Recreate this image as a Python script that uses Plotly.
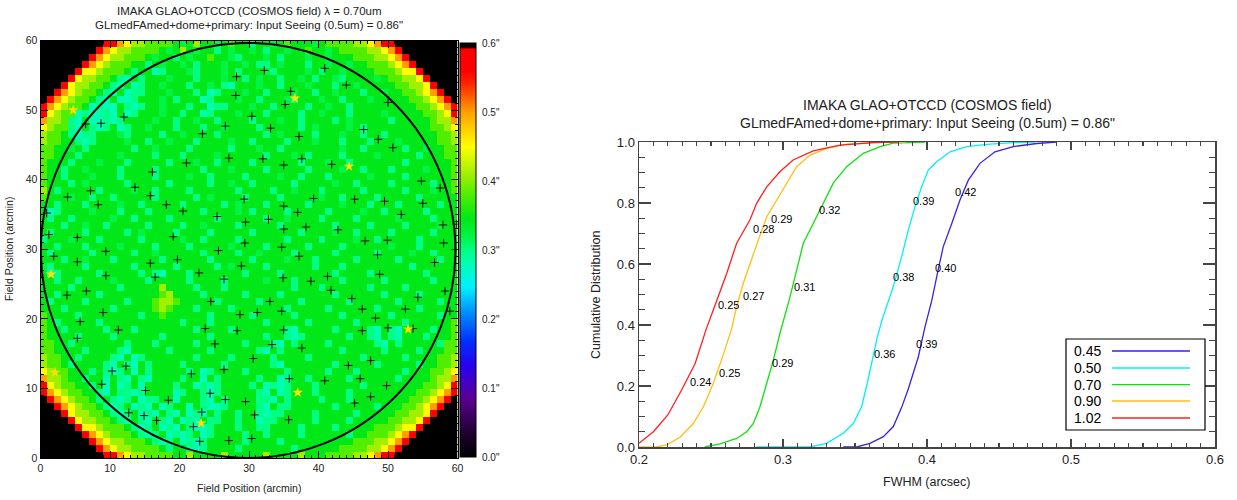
import plotly.graph_objects as go

# ---------------- data: left panel (FWHM map, arcsec) ----------------
# one character per 1x1 arcmin cell, rows listed from top (y=59) to bottom (y=0)
LEVELS = {"K": 0.60, "R": 0.56, "O": 0.50, "Y": 0.45, "L": 0.41, "l": 0.38,
          "G": 0.345, "g": 0.32, "T": 0.30, "C": 0.28}
MAP_ROWS = [
    "KKKKKKKKKR ROYLLllllG gGLGGgGlGG TGGgGlGGGg GllllLLYOR RKKKKKKKKK",
    "KKKKKKKKRO YLLllllGgG LGgGGTGgGG gGTGGgGGlG GgGllllLLY ORKKKKKKKK",
    "KKKKKKKROY LLlllGgGGT GgGGlGGgTG GGgGTGGGgG GgGGGlllLL YORKKKKKKK",
    "KKKKKKROYL lllGGTGgGG gGTGGGgGGg GTTGgGGGTG GgGGgGGlll LYORKKKKKK",
    "KKKKKRYYLl llGTGGCTGG GgTGGGgGTG GGgTGGGGgG TGGgGGGGll lLYYRKKKKK",
    "KKKKRYLLll GTCGTGGGgG GGTGGGgGGT GgGGTGGgGT GGgTGGGGgG llLLYRKKKK",
    "KKKRYLLllG TCGCTGGgGG GTGGgGTCGG GgGGTGGGgG GGTGGgGGGG GllLLYRKKK",
    "KKROYLllGT CGCTTGGGgG GGTGCTGGGg GGTGGGgGGT GGgGGGTGGg GGllLYORKK",
    "KROYLllGTC GCCTGGGgGT GGGCTGGGgG GTGGGgTGGG gGGTGGGgGG GGGllLYORK",
    "ROYLllGCTC CGTCTGGgGG GTGGCTTGGG gGGTGGGGTG GgGGTGGGGG GGGGllLYOR",
    "RYLllCTCCT CGCTGGGgGG TGGCTGGGgG GGTGGGGTGG gGGGTGGGGg GGGGGllLYR",
    "OLLlTCGCCT CTGGGGgGGT GGgGGTGGGG TGGGgGGTGG GGTGgGGGGG TGGGGGlLLO",
    "YLllTCGTCT GCTGGgGGGT GGGTGGgGGG GTGGGGGTGg GGGGgGTGGG GGGGGGllLY",
    "LllGTCTTGG GgTGGGGTGG gGGGGTGGGG GGTGgGGGGT GGGgGGTGGT GGGGGGGllL",
    "LllGGTCTGG GGgGGTGGgG GGTGGGGgGG TGGGGTGGGg GGGTGGGTGG GgGGGGGllL",
    "llGGgGTGGG GGGTGGgGGG GTGGGGGTGG GgGGTGGGGG GGGgGGTGGG GGTGGgGGll",
    "llGGGTGGGG GgGGGGTGGG TGGGGgGGGG GGTGGGgGTG GGGTGGGGgG GGGGTGGGll",
    "lGGGTGGGgG GGTGGGGGTG GGgGGTGGGG TGGGGGGTGG GgGGTGGGGG GGTGGGGGGl",
    "lGGTGGgGGG GTGGGGTGGG GGGTGGGgGG GGTGGGGGTG GGGgGGTGGG TGGGGgGGGl",
    "lGGTGGGgGG GTGGGGTGGG GgGGTGGGGT GGGGgGGTGG GTGGGGGgGG GGTGGGGGGl",
    "lGGGTGgGGG GGTGGGGGTG GGGGTGGgGG TGGGGGTGGG GGgGGTGGGG TGGGGGTGGl",
    "LGTGGGGGTG GGGgGGTGGG GTGGGGGGTG GGGTGGgGGG TGGGGGTGGG GGTGGGgGGl",
    "lGGGgGGTGG TGGGGGTGGG GGTGgGGGGT GGGGTGGGGG gGGTGGGGTG GGGGTGGGGG",
    "GGTGGGTGGG GgGGTGGGGG TGGGGGTGgG GGTGGGGGTG GGGgGGGTGG GTGGGGGTGG",
    "GCTGGGGgGG GTGGGTGGGG GGGTGGGGgG TGGGGTGGGG GTGGGGgGGT GGGGGTGGGG",
    "GTGGTGGGGG gGGTGGGGTG GGGGGTGGGG GGTGGgGGGG TGGGGTGGGG GgGGGGTGGG",
    "GGGTGGgGGT GGGGGTGGGG TGGgGGGGTG GGGGTGGGGG GGTGGGGTGG GGTGGGGgGG",
    "GTGGGGTGGG GGTGgGGGGT GGGGTGGGGG TGGGGGGTGG GGgGGTGGGG TGGGGGTGGG",
    "TGGGgGGGTG GGGGTGGGGG gGGTGGGGTG GGGGGTGGGG TGGGGgGGTG GGGGTGGGGG",
    "GGTGGGTGGG GgGGGGTGGG GTGGGGGgGG GGTGGGGGTG GGGTGGGGGG gGGGTGGGGG",
    "GTGGGGGTGG GGGTGGgGGG GGGTGGGGTG GgGGGGTGGG GGTGGGGGTG GGGgGGTGGG",
    "GGGTGGgGGG TGGGGGGTGG GGGGTGGGGG TGGGGgGGGT GGGGGTGGGG GTGGGGGTGG",
    "gTGGGGTGGG GGGTGGGGGT GGGGGTGgGG GGTGGGGGGT GGGTGGGGGG GGGTGGGGGG",
    "GCTGGGGGTG GGGGTGTCGG GTGGGGGGGT GGGGTGGGGG GGTGGGGTGG GGGGGTGGGG",
    "GGTGGTGGGG gGGGGTGGGG GTGGGGTGGG GGgGGGTGGG GGGTGGGGGT GGGGGGTGGG",
    "GGGGTGGGGG GTGGGGGLGG GGTGGGTGGG GGGGGGTGGG TGGGGGGTGG GGTGGGGGGG",
    "GGTGGGGGTG GGGGGGGlLG GGGTGGGGGT GGGGTGGGGG GGTGGGGGGT GGGGTGGGGG",
    "GTGGGGTGGG GGTGGGlLLl GGGGGTGGGG GTGGGGGTGG GGGGTGGGGG GTGGGGGTGG",
    "GGGTGGGGGG TGGGGGlLlG GGTGGGGTGG GGGGGTGGGG GTGGGGGGTG GGGGTGGGGG",
    "lGGGGTGGGG GGGGTGGlGG GGGGTGGGGG TGGGGGTGGG GGGTGGGGGG TGGGGGGTGG",
    "lGTGGGGGTG GGGGGGGGGG TGGGTGGGGG GGTGGGGGTG GGGGGTGGGG GGTGGGGGGl",
    "lGGTGGGGGT GGGTGGGGGG GGTGGGGTGG GGGGGTCGGG GGTGGGGTCG TCGGGGTGGl",
    "lGGGGTGGGG TGGGGGGTGG GGGGTGGGGG GGTGGTCTGG GGGGTGGTCG TCGGGTGGGl",
    "llGGTGGGGG GGTGGGTGGG GGTGGGGGGT GGGTCGTGGG GTGGGGGGTC GTGGGGGTll",
    "llGGGGTGGG GTCGGGGGTG GGGGTGGGGG GTCGTGGGGG GGGTGGGGGT GGGGTGGGll",
    "LllGGTGGGG TCGCTGGGGG GGTGGGGTGG GGGTGGGGTG GGGGGGTGGG GGTGGGGllL",
    "LllGTGGGGT CGTCGTGGGG TGGGGGTGGG GGGTCGGGGG GGTGGGGGTG GGGGTGGllL",
    "YLllGGGTGT CTGCGTGGGG GTGCTGGGGT GGGGGTGGGG GTGGGTGGGG GGTGGGllLY",
    "OLLlGGTGGC GTCGTCGGGG TGGCGTGGGG GTGGCTGGTG GGGGTGGGGG GTGGGGlLLO",
    "RYLllGGTGC GCTGCGGGGT GGCTCTGGGG TGCTCTGGGT GGGGGGTGGG GGGGGllLYR",
    "ROYLllGGTC GTTCTGGGGC TGGTCTGGGG GTCGCTGGGT GGGGTGGGGG GGGGllLYOR",
    "KROYLllGTG TCTGCTTGGC GGGTCGTGGG GTTCGTGGGG TGGGTGGGGG GGGllLYORK",
    "KKROYLllGT CTGCTCGCTG GCGTCCTGGG GTCGTTGGGG GGTGGGGGTG GGllLYORKK",
    "KKKRYLLllG TCTGCTCGTC GCTCGTGGTG GTCTTGGGGT GGGGGTGGGG GllLLYRKKK",
    "KKKKRYLLll GTCGTCGTCG CTCGTTGGTG GCTTGGGGGT GGGGTGGGGG llLLYRKKKK",
    "KKKKKRYYLl llGTCTGCTC GTCCTGGGTG GTTGGGGTGG GGTGGGGGll lLYYRKKKKK",
    "KKKKKKROYL lllGTCTGCT CTGCTGGGGT GGTGGGGTGG GGGGTGGlll LYORKKKKKK",
    "KKKKKKKROY LLlllGTCTG CTCTGGGGGT GGGGTGGGGG GGGGGlllLL YORKKKKKKK",
    "KKKKKKKKRO YLLllllGTG GTCTGGGGTG GGGGGGTGGG GGGllllLLY ORKKKKKKKK",
    "KKKKKKKKKR ROYLLllllG GLGGGGLGGG GGLGGGGLGG GllllLLYOR RKKKKKKKKK",
]

PLUS_X = [28.2, 28.1, 6.5, 8.7, 12.0, 26.6, 23.3, 27.1, 21.0, 16.1, 13.6, 15.8, 7.2, 3.9, 8.3,
          18.1, 20.5, 29.3, 25.4, 29.5, 0.9, 1.2, 5.3, 19.1, 29.4, 9.4, 25.6, 1.9, 19.7,
          32.2, 40.9, 44.0, 36.0, 35.2, 50.0, 30.4, 33.1, 46.5, 37.2, 48.6, 50.7, 32.0, 37.6,
          35.0, 41.9, 54.8, 57.5, 39.3, 35.0, 45.2, 49.5, 55.0, 37.0, 51.9, 32.8, 35.0, 38.2,
          42.8, 57.9, 59.9, 34.7, 46.7, 49.9, 58.0, 37.2, 48.5,
          5.3, 15.8, 9.4, 16.5, 22.8, 26.4, 28.9, 3.8, 6.6, 24.5, 9.0, 5.7, 28.7, 11.2, 23.7,
          28.3, 5.3, 25.1, 12.3, 10.3, 21.7, 26.4, 8.8, 15.1, 24.4, 18.4, 26.6, 29.5, 12.7,
          14.9, 23.2, 16.7, 22.0, 22.9, 27.1,
          56.7, 34.9, 41.3, 48.8, 38.9, 41.8, 58.2, 33.0, 44.8, 54.3, 31.2, 34.7, 46.3, 52.5,
          58.9, 48.2, 35.0, 46.3, 50.0, 53.6, 33.3, 37.6, 30.6, 47.5, 44.3, 35.8, 40.9, 46.0,
          49.8, 47.5, 45.2, 30.8, 35.7, 30.4]
PLUS_Y = [54.8, 52.1, 48.0, 48.1, 49.0, 47.7, 46.6, 43.1, 42.4, 41.1, 38.9, 37.7, 38.4, 37.5, 36.4,
          36.4, 35.5, 37.2, 34.7, 33.9, 35.2, 32.1, 31.7, 31.8, 30.9, 29.7, 29.8, 29.0, 28.5,
          55.7, 56.0, 53.6, 52.7, 50.8, 51.1, 49.1, 47.4, 47.2, 46.2, 45.8, 44.6, 43.0, 43.0,
          42.1, 42.2, 39.8, 38.8, 37.3, 36.2, 37.2, 36.9, 36.6, 35.3, 35.0, 34.3, 32.9, 33.2,
          32.8, 33.5, 33.6, 30.3, 31.2, 31.3, 30.9, 29.0, 29.2,
          28.2, 28.0, 26.2, 26.0, 26.6, 25.7, 27.6, 23.4, 24.0, 22.5, 20.9, 19.6, 20.6, 18.4, 18.6,
          18.3, 17.2, 16.4, 13.2, 12.5, 12.1, 12.7, 10.6, 9.7, 9.3, 8.3, 8.4, 8.1, 6.5,
          6.1, 6.6, 5.4, 4.5, 2.4, 2.5,
          28.1, 25.9, 26.1, 26.4, 25.4, 24.1, 24.0, 22.5, 22.9, 23.1, 20.9, 21.1, 21.4, 21.4,
          21.1, 20.1, 18.4, 18.3, 18.7, 18.6, 16.3, 15.8, 14.3, 14.0, 13.3, 11.4, 11.1, 11.4,
          10.4, 8.8, 7.9, 6.2, 5.5, 2.8]
STAR_X = [4.7, 36.6, 44.4, 1.5, 2.1, 23.1, 52.9, 37.0]
STAR_Y = [50.0, 51.7, 41.9, 26.4, 12.3, 5.0, 18.5, 9.4]

CBAR_VALS = [0.0, 0.1, 0.2, 0.3, 0.4, 0.5, 0.6]
CBAR_TEXT = ['0.0"', '0.1"', '0.2"', '0.3"', '0.4"', '0.5"', '0.6"']

# ---------------- data: right panel (cumulative FWHM distributions) ----------------
SERIES = ["0.45", "0.50", "0.70", "0.90", "1.02"]
FWHM_045 = [0.3419, 0.3512, 0.3604, 0.3697, 0.3766, 0.3824, 0.3870, 0.3940, 0.3986, 0.4033,
            0.4075, 0.4113, 0.4172, 0.4229, 0.4287, 0.4368, 0.4472, 0.4600, 0.4762, 0.4900]
CDF_045 = [0.0, 0.0, 0.012, 0.034, 0.067, 0.130, 0.190, 0.296, 0.394, 0.480,
           0.575, 0.657, 0.733, 0.810, 0.875, 0.930, 0.968, 0.985, 0.995, 1.0]
FWHM_050 = [0.2815, 0.3188, 0.3303, 0.3419, 0.3488, 0.3546, 0.3585, 0.3623, 0.3655, 0.3690,
            0.3725, 0.3766, 0.3824, 0.3870, 0.3917, 0.3963, 0.4009, 0.4067, 0.4160, 0.4275,
            0.4438, 0.4600, 0.4750]
CDF_050 = [0.0, 0.0, 0.012, 0.045, 0.077, 0.132, 0.209, 0.296, 0.360, 0.420,
           0.470, 0.526, 0.624, 0.711, 0.788, 0.853, 0.908, 0.935, 0.968, 0.985,
           0.993, 0.998, 1.0]
FWHM_070 = [0.2456, 0.2562, 0.2678, 0.2748, 0.2794, 0.2840, 0.2887, 0.2933, 0.2979, 0.3026,
            0.3049, 0.3095, 0.3141, 0.3210, 0.3280, 0.3349, 0.3442, 0.3558, 0.3674, 0.3766,
            0.3986]
CDF_070 = [0.0, 0.010, 0.028, 0.050, 0.077, 0.132, 0.209, 0.285, 0.373, 0.449,
           0.493, 0.580, 0.668, 0.733, 0.799, 0.865, 0.919, 0.963, 0.985, 0.996,
           1.0]
FWHM_090 = [0.2000, 0.2120, 0.2192, 0.2285, 0.2377, 0.2447, 0.2516, 0.2585, 0.2644, 0.2678,
            0.2724, 0.2771, 0.2829, 0.2887, 0.2956, 0.3026, 0.3095, 0.3188, 0.3303, 0.3442,
            0.3673, 0.3850]
CDF_090 = [0.0, 0.0, 0.007, 0.032, 0.077, 0.132, 0.209, 0.302, 0.389, 0.460,
           0.537, 0.602, 0.679, 0.755, 0.810, 0.865, 0.919, 0.957, 0.979, 0.993,
           0.999, 1.0]
FWHM_102 = [0.2000, 0.2100, 0.2200, 0.2296, 0.2390, 0.2465, 0.2535, 0.2609, 0.2678, 0.2770,
            0.2817, 0.2887, 0.2980, 0.3070, 0.3210, 0.3396, 0.3627, 0.3800]
CDF_102 = [0.012, 0.050, 0.105, 0.187, 0.274, 0.384, 0.474, 0.569, 0.668, 0.744,
           0.799, 0.853, 0.903, 0.941, 0.971, 0.990, 0.998, 1.0]

# quartile labels: (x, y, text)
QLAB_045 = [(0.3998, 0.337, "0.39"), (0.4125, 0.586, "0.40"), (0.4269, 0.835, "0.42")]
QLAB_050 = [(0.3704, 0.305, "0.36"), (0.3835, 0.556, "0.38"), (0.3974, 0.807, "0.39")]
QLAB_070 = [(0.2995, 0.277, "0.29"), (0.3146, 0.526, "0.31"), (0.3322, 0.777, "0.32")]
QLAB_090 = [(0.2627, 0.244, "0.25"), (0.2794, 0.496, "0.27"), (0.2991, 0.747, "0.29")]
QLAB_102 = [(0.2430, 0.213, "0.24"), (0.2620, 0.466, "0.25"), (0.2864, 0.715, "0.28")]

COLORS = ["#3a22dd", "#00f0f8", "#10e010", "#ffbe10", "#ff1e1e"]

W, H = 1237, 500
FONT = "Liberation Sans, Arial, sans-serif"


def px(x):
    return x / W


def py(y):
    return 1 - y / H


rows = [r.replace(" ", "") for r in MAP_ROWS]
z = []
for r in reversed(rows):
    r = (r + "G" * 60)[:60]
    z.append([LEVELS[c] for c in r])

colorscale = [
    [0.0, "#000000"], [0.06, "#200030"], [0.14, "#5a0090"], [0.22, "#2a00f0"],
    [0.28, "#0030ff"], [0.35, "#0090ff"], [0.41, "#00f0ff"], [0.467, "#00ffb4"],
    [0.50, "#00ff84"], [0.533, "#00f444"], [0.575, "#00e818"], [0.633, "#50ee00"],
    [0.683, "#a0f000"], [0.75, "#ffff00"], [0.833, "#ffa000"], [0.90, "#ff2800"],
    [0.933, "#ff0000"], [0.985, "#ff0000"], [0.99, "#000000"], [1.0, "#000000"],
]

fig = go.Figure()
fig.add_trace(go.Heatmap(
    z=z, x0=0.5, dx=1, y0=0.5, dy=1, zmin=0, zmax=0.6, colorscale=colorscale,
    xaxis="x", yaxis="y", hoverinfo="skip",
    colorbar=dict(x=px(460), xanchor="left", xref="paper", y=py(250), yanchor="middle",
                  len=414 / H, lenmode="fraction", thickness=16, thicknessmode="pixels",
                  outlinewidth=1, outlinecolor="black", tickvals=CBAR_VALS, ticktext=CBAR_TEXT,
                  ticks="outside", ticklen=4, tickcolor="rgba(0,0,0,0)",
                  tickfont=dict(family=FONT, size=10, color="#222"), xpad=0, ypad=0),
))
fig.add_trace(go.Scatter(x=PLUS_X, y=PLUS_Y, mode="markers", xaxis="x", yaxis="y",
                         marker=dict(symbol="cross-thin", size=6, line=dict(color="#111", width=1)),
                         showlegend=False, hoverinfo="skip"))
fig.add_trace(go.Scatter(x=STAR_X, y=STAR_Y, mode="markers", xaxis="x", yaxis="y",
                         marker=dict(symbol="star", size=8, color="#ffe000", line=dict(width=0)),
                         showlegend=False, hoverinfo="skip"))

curves = [(FWHM_045, CDF_045), (FWHM_050, CDF_050), (FWHM_070, CDF_070),
          (FWHM_090, CDF_090), (FWHM_102, CDF_102)]
for name, (xs, ys), col in zip(SERIES, curves, COLORS):
    fig.add_trace(go.Scatter(x=xs, y=ys, mode="lines", name=name, xaxis="x2", yaxis="y2",
                             line=dict(color=col, width=1.3), showlegend=False,
                             hoverinfo="skip"))

annotations = []
for lab in [QLAB_045, QLAB_050, QLAB_070, QLAB_090, QLAB_102]:
    for (xv, yv, t) in lab:
        annotations.append(dict(x=xv, y=yv, xref="x2", yref="y2", text=t, showarrow=False,
                                xanchor="center", yanchor="middle",
                                font=dict(family=FONT, size=11, color="black")))


def note(x, y, text, size, angle=0, xanchor="center"):
    return dict(x=px(x), y=py(y), xref="paper", yref="paper", text=text, showarrow=False,
                xanchor=xanchor, yanchor="middle", textangle=angle,
                font=dict(family=FONT, size=size, color="#222"))


annotations += [
    note(249, 11, "IMAKA GLAO+OTCCD (COSMOS field) λ = 0.70um", 11.5),
    note(249, 24.5, 'GLmedFAmed+dome+primary: Input Seeing (0.5um) = 0.86"', 11.5),
    note(249, 488, "Field Position (arcmin)", 10.5),
    note(9, 249, "Field Position (arcmin)", 10.5, angle=-90),
    note(927, 105, "IMAKA GLAO+OTCCD (COSMOS field)", 14),
    note(927, 123, 'GLmedFAmed+dome+primary: Input Seeing (0.5um) = 0.86"', 14),
    note(927, 482, "FWHM (arcsec)", 12.5),
    note(596, 295, "Cumulative Distribution", 12.5, angle=-90),
]

shapes = [dict(type="circle", xref="x", yref="y", x0=0.05, y0=0.0, x1=59.7, y1=59.65,
               line=dict(color="black", width=2))]

# legend box (drawn by hand: label left, line sample right)
shapes.append(dict(type="rect", xref="paper", yref="paper", x0=px(1066), x1=px(1205),
                   y0=py(430), y1=py(339), line=dict(color="black", width=1.2),
                   fillcolor="white", layer="above"))
leg_y = [351, 368, 384.7, 401, 418]
for name, col, yy in zip(SERIES, COLORS, leg_y):
    shapes.append(dict(type="line", xref="paper", yref="paper", x0=px(1112), x1=px(1190),
                       y0=py(yy), y1=py(yy), line=dict(color=col, width=1.3), layer="above"))
    a = note(1072, yy, name, 14, xanchor="left")
    a["font"]["color"] = "black"
    annotations.append(a)

ax_l = dict(range=[0, 60], showline=True, linecolor="black", linewidth=1, mirror="allticks",
            ticks="inside", ticklen=7, tickcolor="black", dtick=10, tick0=0,
            minor=dict(dtick=1, ticklen=3, ticks="inside", tickcolor="black"),
            showgrid=False, zeroline=False, automargin=False,
            tickfont=dict(family=FONT, size=10.5, color="#222"))
fig.update_layout(
    width=W, height=H, margin=dict(l=0, r=0, t=0, b=0, pad=0, autoexpand=False),
    paper_bgcolor="white", plot_bgcolor="white", showlegend=False,
    xaxis=dict(domain=[px(40.5), px(457.5)], anchor="y", **ax_l),
    yaxis=dict(domain=[py(458), py(40.5)], anchor="x", **ax_l),
    xaxis2=dict(domain=[px(639), px(1215)], anchor="y2", range=[0.2, 0.6], dtick=0.1,
                tick0=0.2, tickformat=".1f", showline=True, linecolor="#444", linewidth=1.5,
                mirror="allticks", ticks="inside", ticklen=8, tickcolor="#444", tickwidth=1.3,
                minor=dict(dtick=0.01, ticklen=4, ticks="inside", tickcolor="#444"),
                showgrid=False, zeroline=False, automargin=False,
                tickfont=dict(family=FONT, size=13, color="#222")),
    yaxis2=dict(domain=[py(447), py(142)], anchor="x2", range=[0, 1.0], dtick=0.2,
                tickformat=".1f", showline=True, linecolor="#444", linewidth=1.5,
                mirror="allticks", ticks="inside", ticklen=12, tickcolor="#444", tickwidth=1.3,
                minor=dict(dtick=0.05, ticklen=6, ticks="inside", tickcolor="#444"),
                showgrid=False, zeroline=False, automargin=False,
                tickfont=dict(family=FONT, size=13, color="#222")),
    annotations=annotations, shapes=shapes,
)

# remove the page's default 8px body margin so the figure fills the window exactly
fig.write_html("out.html",
               config={"displayModeBar": False, "staticPlot": True},
               post_script="document.body.style.margin='0px';document.body.style.overflow='hidden';")
